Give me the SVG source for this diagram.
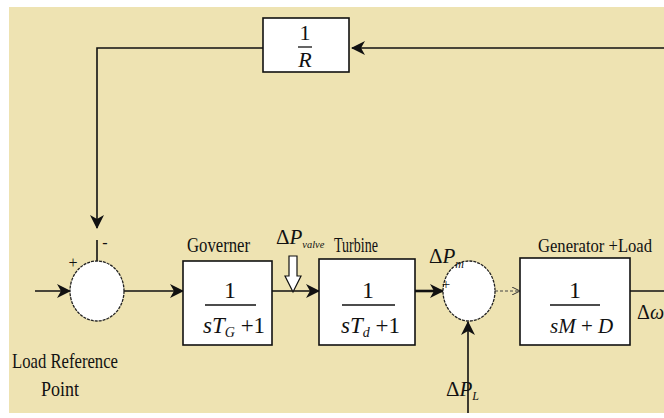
<svg xmlns="http://www.w3.org/2000/svg" width="664" height="418" viewBox="0 0 664 418">
<defs>
<marker id="ah" markerUnits="userSpaceOnUse" markerWidth="14" markerHeight="14" viewBox="0 0 14 14" refX="13" refY="7" orient="auto">
<path d="M0,0 L14,7 L0,14 L4,7 Z" fill="#111"/>
</marker>
<marker id="ahs" markerUnits="userSpaceOnUse" markerWidth="8" markerHeight="8" viewBox="0 0 8 8" refX="7" refY="4" orient="auto">
<path d="M0,0 L8,4 L0,8" fill="none" stroke="#333" stroke-width="1"/>
</marker>
</defs>
<style>
.bg{fill:#eee3b2}
.box{fill:#ffffff;stroke:#111;stroke-width:1.6}
.sum{fill:#ffffff;stroke:#222;stroke-width:1.3;stroke-dasharray:3 1}
.ln{fill:none;stroke:#111;stroke-width:1.6}
.thick{fill:none;stroke:#111;stroke-width:2.6}
.t{font-family:"Liberation Serif","Times New Roman",serif;fill:#111}
.i{font-style:italic}
</style>
<rect x="0" y="0" width="664" height="418" fill="#ffffff"/>
<rect class="bg" x="9" y="7" width="655" height="406"/>

<g id="connectors">
<polyline class="ln" points="664,48 352,48" marker-end="url(#ah)"/>
<polyline class="ln" points="263,48 97,48 97,228" marker-end="url(#ah)"/>
<line class="ln" x1="97" y1="240" x2="97" y2="261"/>
<line class="ln" x1="35" y1="291" x2="70" y2="291" marker-end="url(#ah)"/>
<line class="ln" x1="124" y1="291" x2="183" y2="291" marker-end="url(#ah)"/>
<line class="ln" x1="272" y1="291" x2="319" y2="291" marker-end="url(#ah)"/>
<line class="thick" x1="415" y1="291" x2="443" y2="291" marker-end="url(#ah)"/>
<line x1="495" y1="291" x2="519" y2="291" stroke="#444" stroke-width="1" stroke-dasharray="3 2" marker-end="url(#ahs)"/>
<line class="ln" x1="630" y1="291" x2="664" y2="291"/>
<line class="ln" x1="468" y1="413" x2="468" y2="322" marker-end="url(#ah)"/>
<polygon points="289,256 297,256 297,276 301,276 293,292 285,276 289,276" fill="#ffffff" stroke="#111" stroke-width="1.2"/>
</g>

<g id="feedback">
<rect class="box" x="263" y="18" width="86" height="54"/>
<text class="t" x="305" y="40" font-size="22" text-anchor="middle">1</text>
<line x1="298" y1="47" x2="312" y2="47" stroke="#111" stroke-width="1.3"/>
<text class="t i" x="305" y="67" font-size="22" text-anchor="middle">R</text>
</g>

<g id="sum1">
<ellipse class="sum" cx="97" cy="291" rx="27" ry="30"/>
<text class="t" x="73" y="268" font-size="16" text-anchor="middle">+</text>
<text class="t" x="105" y="248" font-size="16" text-anchor="middle">-</text>
<text class="t" x="12" y="368" font-size="21" textLength="106" lengthAdjust="spacingAndGlyphs">Load Reference</text>
<text class="t" x="41" y="396" font-size="21" textLength="38" lengthAdjust="spacingAndGlyphs">Point</text>
</g>

<g id="governor">
<text class="t" x="187" y="252" font-size="21" textLength="63" lengthAdjust="spacingAndGlyphs">Governer</text>
<rect class="box" x="183" y="261" width="89" height="84"/>
<text class="t" x="230" y="298" font-size="24" text-anchor="middle">1</text>
<line x1="205" y1="305" x2="256" y2="305" stroke="#111" stroke-width="1.3"/>
<text class="t" x="203" y="333" font-size="23"><tspan class="i">sT</tspan><tspan class="i" font-size="14" dy="4">G</tspan><tspan dy="-4"> +1</tspan></text>
</g>

<g id="valve">
<text class="t" x="276" y="244" font-size="21"><tspan>Δ</tspan><tspan class="i">P</tspan><tspan class="i" font-size="11" dy="4" textLength="22" lengthAdjust="spacingAndGlyphs">valve</tspan></text>
</g>

<g id="turbine">
<text class="t" x="334" y="252" font-size="21" textLength="44" lengthAdjust="spacingAndGlyphs">Turbine</text>
<rect class="box" x="319" y="259" width="96" height="86"/>
<text class="t" x="368" y="298" font-size="24" text-anchor="middle">1</text>
<line x1="342" y1="305" x2="395" y2="305" stroke="#111" stroke-width="1.3"/>
<text class="t" x="341" y="333" font-size="23"><tspan class="i">sT</tspan><tspan class="i" font-size="14" dy="4">d</tspan><tspan dy="-4"> +1</tspan></text>
</g>

<g id="sum2">
<ellipse class="sum" cx="469" cy="291" rx="26" ry="30"/>
<text class="t" x="429" y="263" font-size="21"><tspan>Δ</tspan><tspan class="i">P</tspan><tspan class="i" font-size="12" dy="5">m</tspan></text>
<text class="t" x="446" y="289" font-size="15" text-anchor="middle">+</text>
<text class="t" x="446" y="396" font-size="21"><tspan>Δ</tspan><tspan class="i">P</tspan><tspan class="i" font-size="12" dy="4">L</tspan></text>
</g>

<g id="generator">
<text class="t" x="538" y="252" font-size="18" textLength="114" lengthAdjust="spacingAndGlyphs">Generator +Load</text>
<rect class="box" x="520" y="258" width="110" height="87"/>
<text class="t" x="575" y="298" font-size="24" text-anchor="middle">1</text>
<line x1="550" y1="305" x2="600" y2="305" stroke="#111" stroke-width="1.3"/>
<text class="t" x="550" y="333" font-size="21"><tspan class="i">sM</tspan><tspan> + </tspan><tspan class="i">D</tspan></text>
</g>

<g id="output">
<text class="t" x="637" y="319" font-size="20"><tspan>Δ</tspan><tspan class="i">ω</tspan></text>
</g>
</svg>
